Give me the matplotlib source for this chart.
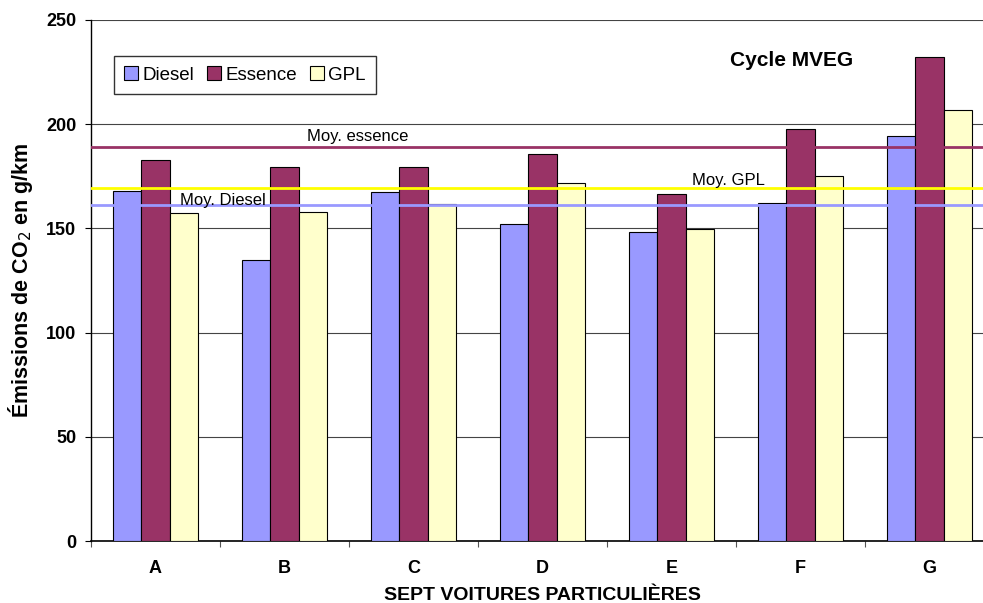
import numpy as np
import matplotlib
matplotlib.use('Agg')
import matplotlib.pyplot as plt

plt.rcParams['font.family'] = ['Liberation Sans', 'DejaVu Sans']

# data
voitures = ["A", "B", "C", "D", "E", "F", "G"]
diesel = [167.9, 134.8, 167.6, 152.1, 148.3, 162.2, 194.3]
essence = [183.0, 179.6, 179.5, 185.7, 166.5, 197.7, 232.2]
gpl = [157.2, 157.7, 161.7, 171.8, 149.7, 175.3, 207.0]
moy_diesel = 161.2
moy_essence = 189.0
moy_gpl = 169.2

c_diesel = "#9999FF"
c_essence = "#993366"
c_gpl = "#FFFFCC"

fig = plt.figure(figsize=(9.83, 6.03), dpi=100)
ax = fig.add_axes([91 / 983, 62 / 603, 903 / 983, 521 / 603])

x = np.arange(len(voitures)) + 0.5
w = 0.222
ax.bar(x - w, diesel, w, color=c_diesel, edgecolor="black", linewidth=0.8, label="Diesel", zorder=3)
ax.bar(x, essence, w, color=c_essence, edgecolor="black", linewidth=0.8, label="Essence", zorder=3)
ax.bar(x + w, gpl, w, color=c_gpl, edgecolor="black", linewidth=0.8, label="GPL", zorder=3)

# average lines
ax.axhline(moy_essence, color=c_essence, lw=2, zorder=4)
ax.axhline(moy_gpl, color="#FFFF00", lw=2, zorder=4)
ax.axhline(moy_diesel, color=c_diesel, lw=2, zorder=4)
ax.text(2.07, 194, "Moy. essence", ha="center", va="center", fontsize=12, zorder=5)
ax.text(4.94, 173.2, "Moy. GPL", ha="center", va="center", fontsize=12, zorder=5)
ax.text(1.02, 163.6, "Moy. Diesel", ha="center", va="center", fontsize=12, zorder=5)

ax.set_xlim(0, 7)
ax.set_ylim(0, 250)
ax.set_yticks(np.arange(0, 251, 50))
ax.set_xticks(np.arange(0, 8))
ax.set_xticklabels([])
ax.set_xticks(x, minor=True)
ax.set_xticklabels(voitures, minor=True, fontweight="bold", fontsize=13)
ax.tick_params(axis="x", which="minor", length=0, pad=14)
ax.tick_params(axis="x", which="major", length=4.5, color="#555555")
ax.tick_params(axis="y", length=4.5, labelsize=13, pad=6)
for lab in ax.get_yticklabels():
    lab.set_fontweight("bold")

ax.grid(axis="y", color="#444444", lw=0.8, zorder=0)
ax.spines["top"].set_visible(False)
ax.spines["right"].set_visible(False)
ax.spines["left"].set_linewidth(1)
ax.spines["bottom"].set_linewidth(1.2)

ax.set_ylabel("Émissions de CO$_2$ en g/km", fontsize=15.5, fontweight="bold", labelpad=8)
ax.set_xlabel("SEPT VOITURES PARTICULIÈRES", fontsize=14, fontweight="bold", labelpad=7)

leg = ax.legend(loc="upper left", bbox_to_anchor=(0.0255, 0.931), borderaxespad=0,
                ncol=3, fontsize=13.5, fancybox=False, framealpha=1, handlelength=0.75,
                handleheight=0.75, handletextpad=0.2, columnspacing=0.72, borderpad=0.55)
leg.get_frame().set_edgecolor("#333333")
leg.get_frame().set_linewidth(1)

ax.text(0.776, 0.923, "Cycle MVEG", transform=ax.transAxes, ha="center", va="center",
        fontsize=15, fontweight="bold")

fig.savefig("out.png", dpi=100)
